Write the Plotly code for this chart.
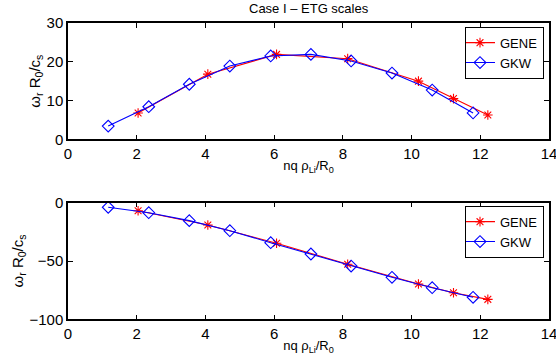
import plotly.graph_objects as go

gene_x = [2.04, 4.07, 6.07, 8.14, 10.2, 11.22, 12.22]
gene_top = [6.8, 16.8, 21.9, 20.8, 15.0, 10.5, 6.25]
gene_bot = [-6.9, -19.1, -34.8, -52.8, -69.7, -77.2, -82.9]

gkw_x = [1.17, 2.35, 3.53, 4.71, 5.9, 7.07, 8.24, 9.43, 10.6, 11.79]
gkw_top = [3.4, 8.4, 14.2, 18.9, 21.5, 21.9, 20.2, 17.1, 12.7, 6.8]
gkw_bot = [-3.9, -8.6, -15.4, -24.0, -34.3, -44.0, -54.3, -64.0, -72.9, -81.1]

x_ticks = [0, 2, 4, 6, 8, 10, 12, 14]
top_ticks = [0, 10, 20, 30]
bot_ticks = [-100, -50, 0]

W, H = 556, 362
FONT = "Liberation Sans, Arial, sans-serif"

fig = go.Figure()

red_marker = dict(symbol="asterisk-open", size=8, color="red", line=dict(color="red", width=1.1))
blue_marker = dict(symbol="diamond-open", size=9, color="blue", line=dict(color="blue", width=1.1))

fig.add_trace(go.Scatter(x=gene_x, y=gene_top, mode="lines+markers", name="GENE",
                         line=dict(color="red", width=1.1), marker=red_marker,
                         xaxis="x", yaxis="y", legend="legend"))
fig.add_trace(go.Scatter(x=gkw_x, y=gkw_top, mode="lines+markers", name="GKW",
                         line=dict(color="blue", width=1.1), marker=blue_marker,
                         xaxis="x", yaxis="y", legend="legend"))
fig.add_trace(go.Scatter(x=gene_x, y=gene_bot, mode="lines+markers", name="GENE",
                         line=dict(color="red", width=1.1), marker=red_marker,
                         xaxis="x2", yaxis="y2", legend="legend2"))
fig.add_trace(go.Scatter(x=gkw_x, y=gkw_bot, mode="lines+markers", name="GKW",
                         line=dict(color="blue", width=1.1), marker=blue_marker,
                         xaxis="x2", yaxis="y2", legend="legend2"))

xdom = [68 / W, 549 / W]
ytop_dom = [1 - 139.3 / H, 1 - 23 / H]
ybot_dom = [1 - 319.3 / H, 1 - 202.7 / H]

axis_common = dict(showline=True, linecolor="black", linewidth=1.5, mirror="allticks",
                   ticks="inside", ticklen=5, tickwidth=1, tickcolor="black",
                   showgrid=False, zeroline=False, automargin=False,
                   ticklabeloverflow="allow",
                   tickfont=dict(family=FONT, size=15, color="black"))

xlabel = "nq ρ<sub>Li</sub>/R<sub>0</sub>"
ylabel = "ω<sub>r</sub> R<sub>0</sub>/c<sub>s</sub>"

legend_common = dict(xanchor="right", yanchor="top",
                     bordercolor="black", borderwidth=1, bgcolor="white",
                     font=dict(family=FONT, size=13), tracegroupgap=0,
                     itemwidth=30, indentation=-6)

fig.update_layout(
    width=W, height=H,
    margin=dict(l=0, r=0, t=0, b=0, pad=0, autoexpand=False),
    paper_bgcolor="white", plot_bgcolor="white",
    font=dict(family=FONT, color="black"),
    showlegend=True,
    xaxis=dict(domain=xdom, anchor="y", range=[0, 14], tickvals=x_ticks,
               title=dict(text=xlabel, font=dict(size=13), standoff=0), **axis_common),
    yaxis=dict(domain=ytop_dom, anchor="x", range=[0, 30], tickvals=top_ticks,
               title=dict(text=ylabel, font=dict(size=15), standoff=2), **axis_common),
    xaxis2=dict(domain=xdom, anchor="y2", range=[0, 14], tickvals=x_ticks,
                title=dict(text=xlabel, font=dict(size=13), standoff=0), **axis_common),
    yaxis2=dict(domain=ybot_dom, anchor="x2", range=[-100, 0], tickvals=bot_ticks,
                title=dict(text=ylabel, font=dict(size=15), standoff=2), **axis_common),
    legend=dict(x=544 / W, y=1 - 26.7 / H, **legend_common),
    legend2=dict(x=544 / W, y=1 - 205.7 / H, **legend_common),
    annotations=[dict(text="Case I – ETG scales", x=(xdom[0] + xdom[1]) / 2, y=1 - 9 / H,
                      xref="paper", yref="paper", showarrow=False,
                      xanchor="center", yanchor="middle",
                      font=dict(family=FONT, size=13, color="black"))],
)

fig.write_html("out.html")
